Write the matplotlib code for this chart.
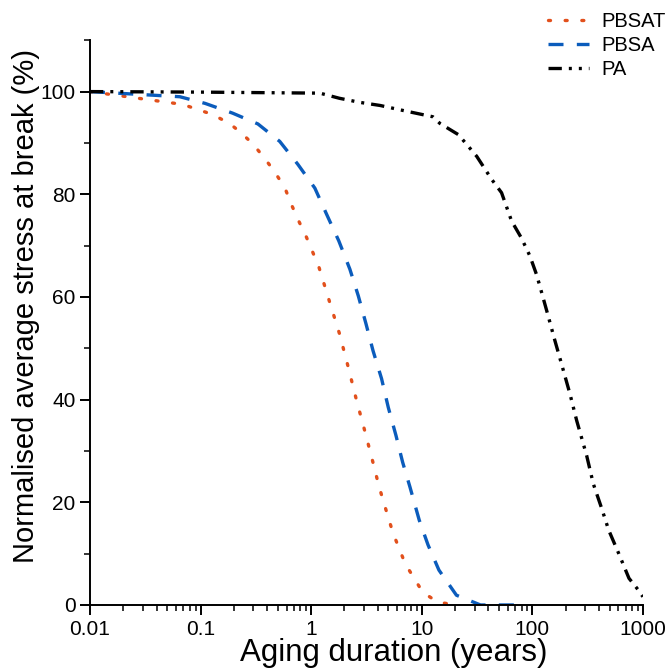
import matplotlib
matplotlib.use('Agg')
import matplotlib.pyplot as plt
from matplotlib.ticker import LogLocator, NullFormatter, FixedLocator

plt.rcParams['font.family'] = ['Liberation Sans', 'DejaVu Sans']

# values
pbsat_t = [0.01, 0.069, 0.13, 0.185, 0.235, 0.30, 0.38, 0.47, 0.58, 0.66, 0.76, 0.90, 1.03, 1.18,
           1.46, 1.8, 2.16, 2.57, 3.09, 3.70, 4.05, 4.47, 5.5, 7.1, 10.2, 13.8, 20]
pbsat_y = [100, 97.5, 95.5, 93.7, 91.9, 89.7, 87.0, 84.3, 81.2, 78.1, 75.1, 71.8, 68.8, 65.7,
           59.2, 52.9, 46.4, 39.9, 33.5, 27.0, 23.6, 20.4, 14.0, 8.0, 2.5, 0.6, 0]

pbsa_t = [0.01, 0.065, 0.11, 0.195, 0.33, 0.52, 0.76, 1.08, 1.38, 1.78, 2.24, 2.67, 3.13, 3.63,
          4.33, 4.98, 5.85, 6.72, 7.82, 9.5, 11.4, 14.3, 20.6, 34, 76]
pbsa_y = [100, 99.0, 97.7, 95.8, 93.7, 90.3, 85.8, 81.2, 76.1, 70.9, 65.4, 60.2, 54.8, 49.5,
          44.1, 38.5, 33.0, 27.8, 23.0, 16.5, 11.7, 6.8, 1.9, 0, 0]

pa_t = [0.01, 0.1, 1.2, 1.8, 2.76, 4.2, 7.2, 12.6, 14.6, 21.5, 31.4, 42.9, 52.7, 64.9, 79.6, 95,
        109, 117, 135, 160, 184, 219, 252, 289, 310, 356, 424, 490, 605, 748, 910, 1000]
pa_y = [100, 99.9, 99.7, 98.7, 97.9, 97.3, 96.2, 95.1, 93.8, 91.6, 87.4, 82.9, 80.3, 74.8, 71.5, 68.0,
        64.4, 62.1, 57.3, 51.5, 46.9, 41.1, 35.9, 31.4, 29.1, 23.6, 18.8, 14.6, 10.0, 5.2, 2.9, 1.6]

x_ticks = [0.01, 0.1, 1, 10, 100, 1000]
x_labels = ['0.01', '0.1', '1', '10', '100', '1000']

fig = plt.figure(figsize=(6.69, 6.71), dpi=100)
ax = fig.add_axes([0.1345, 0.0984, 0.8265, 0.8416])

ax.plot(pbsat_t, pbsat_y, color='#E2501C', lw=2.4, linestyle=(0, (0.6, 4.4)),
        dash_capstyle='round', label='PBSAT')
ax.plot(pbsa_t, pbsa_y, color='#0B5CBC', lw=2.4, linestyle=(0, (4.5, 4)), label='PBSA')
ax.plot(pa_t, pa_y, color='black', lw=2.4, linestyle=(0, (4, 2.1, 0.9, 2.1, 0.9, 2.1)), label='PA')

ax.set_xscale('log')
ax.set_xlim(0.01, 1000)
ax.set_ylim(0, 110)
ax.set_xticks(x_ticks)
ax.set_xticklabels(x_labels)
ax.xaxis.set_minor_locator(LogLocator(base=10, subs=range(2, 10)))
ax.xaxis.set_minor_formatter(NullFormatter())
ax.set_yticks([0, 20, 40, 60, 80, 100])
ax.yaxis.set_minor_locator(FixedLocator([10, 30, 50, 70, 90, 110]))

for s in ['top', 'right']:
    ax.spines[s].set_visible(False)
for s in ['left', 'bottom']:
    ax.spines[s].set_linewidth(1.4)
ax.tick_params(which='major', direction='out', length=7, width=1.4, labelsize=15)
ax.tick_params(which='minor', direction='out', length=4, width=1.1)
ax.tick_params(axis='x', pad=4)

ax.set_xlabel('Aging duration (years)', fontsize=22.5, labelpad=-1, x=0.55)
ax.set_ylabel('Normalised average stress at break (%)', fontsize=21, labelpad=0, y=0.53)

fig.legend(loc='upper right', bbox_to_anchor=(666 / 669, 0.982), frameon=False, fontsize=14.5,
           borderpad=0, borderaxespad=0, handlelength=2.0, handletextpad=0.65, labelspacing=0.25)

fig.savefig('out.png', dpi=100)
